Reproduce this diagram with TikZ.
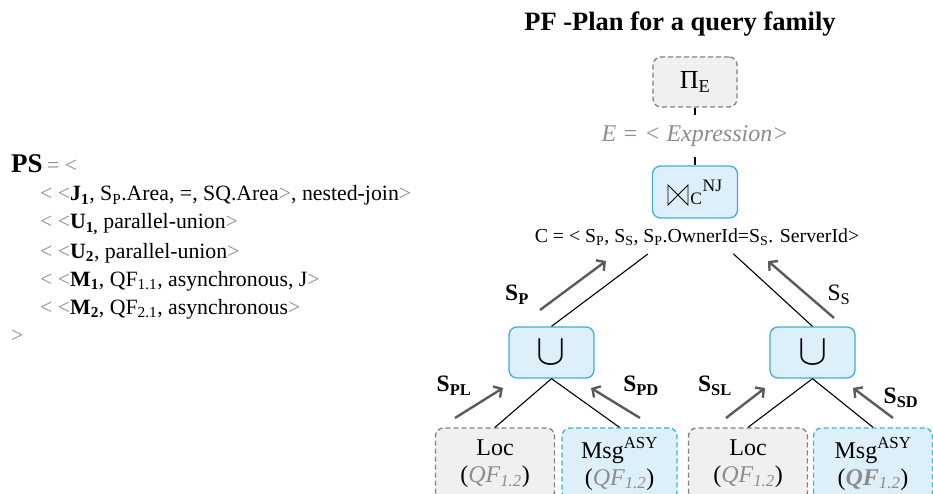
\documentclass[tikz,border=0pt]{standalone}
\usepackage{fontspec}
\setmainfont{Liberation Serif}
\usetikzlibrary{arrows.meta}
\definecolor{opfill}{HTML}{DDF0FA}
\definecolor{opline}{HTML}{3DAFD6}
\definecolor{srcfill}{HTML}{F0F0F0}
\definecolor{srcline}{HTML}{7F7F7F}
\definecolor{flowgray}{HTML}{5A5A5A}
\definecolor{note}{HTML}{8C8C8C}
\newcommand{\lt}{\textcolor{note}{<}}
\newcommand{\gt}{\textcolor{note}{>}}
\newcommand{\qf}[1]{(\textcolor{note}{\textit{#1\textsubscript{1.2}}})}
\newcommand{\unionop}{\scalebox{1.75}{$\cup$}}
\begin{document}
\begin{tikzpicture}[x=1pt,y=-1pt,
  every node/.style={inner sep=0pt},
  opbox/.style={draw=opline, fill=opfill, line width=1.3pt, rounded corners=8pt,
    minimum width=85pt, minimum height=51pt, font=\fontsize{25}{28}\selectfont},
  srcbox/.style={draw=srcline, fill=srcfill, line width=1.3pt, dash pattern=on 5pt off 3pt,
    rounded corners=8pt, minimum width=119pt, minimum height=72pt, align=center,
    font=\fontsize{24}{27}\selectfont},
  msgbox/.style={srcbox, draw=opline, fill=opfill},
  tree/.style={line width=1.1pt, black},
  flow/.style={draw=flowgray, line width=2.4pt, -{Straight Barb[length=6pt,width=13pt]}},
  flowlbl/.style={font=\fontsize{23.5}{25}\selectfont},
  psline/.style={anchor=base west, font=\fontsize{21.8}{24}\selectfont},
  joinsym/.style={line width=0.9pt, line join=miter},
]
\useasboundingbox (0,0) rectangle (933,494);
\clip (0,0) rectangle (933,494);

% ---- PS list ----
\node[psline, font=\fontsize{27}{29}\selectfont] (ps0) at (11,173)
  {\textbf{PS}\,\textcolor{note}{\fontsize{21.8}{24}\selectfont= <}};
\node[psline] (ps1) at (40,201) {\lt\ \lt\textbf{J\textsubscript{1}}, S\textsubscript{P}.Area, =, SQ.Area\gt, nested-join\gt};
\node[psline] (ps2) at (40,229) {\lt\ \lt\textbf{U\textsubscript{1,}} parallel-union\gt};
\node[psline] (ps3) at (40,258) {\lt\ \lt\textbf{U\textsubscript{2}}, parallel-union\gt};
\node[psline] (ps4) at (40,286) {\lt\ \lt\textbf{M\textsubscript{1}}, QF\textsubscript{1.1}, asynchronous,\ J\gt};
\node[psline] (ps5) at (40,314) {\lt\ \lt\textbf{M\textsubscript{2}}, QF\textsubscript{2.1}, asynchronous\gt};
\node[psline] (ps6) at (11,342) {\gt};

% ---- plan ----
\node[anchor=base, font=\bfseries\fontsize{26.5}{30}\selectfont] (title) at (680,31)
  {PF -Plan for a query family};

\node[srcbox, minimum width=84pt, minimum height=50pt, font=\fontsize{26}{28}\selectfont]
  (proj) at (695,82) {Π\textsubscript{E}};
\node[minimum height=41pt, font=\itshape\fontsize{24}{26}\selectfont, text=note]
  (expr) at (695,136) {E = < Expression>};
% join operator: the bowtie glyph is drawn as a path in the reserved space
\node[opbox, minimum height=52pt] (join) at (695,192)
  {\hspace*{23pt}\textsubscript{C}\textsuperscript{NJ}};
\begin{scope}[shift={(join.center)}]
  \draw[joinsym] (-27,-7) -- (-27,13) -- (-7,-7) -- (-7,13) -- cycle;
\end{scope}
\node[font=\fontsize{19.8}{21}\selectfont] (cond) at (697,237)
  {C = < S\textsubscript{P}, S\textsubscript{S}, S\textsubscript{P}.OwnerId=S\textsubscript{S}. ServerId>};

\node[opbox] (u1) at (551.5,352.5) {\unionop};
\node[opbox] (u2) at (812.5,352.5) {\unionop};

\node[srcbox] (loc1) at (495,464) {Loc\\\qf{QF}};
\node[msgbox, minimum width=115pt] (msg1) at (619.5,464) {Msg\textsuperscript{ASY}\\\qf{QF}};
\node[srcbox] (loc2) at (748,464) {Loc\\\qf{QF}};
\node[msgbox] (msg2) at (873,464) {Msg\textsuperscript{ASY}\\\qf{\textbf{QF}}};

% tree edges
\draw[tree] (proj.south) -- (expr.north);
\draw[tree] (expr.south) -- (join.north);
\draw[tree, shorten <=59pt] (join.south) -- (u1.north);
\draw[tree, shorten <=52pt] (join.south) -- (u2.north);
\draw[tree] (u1.south) -- (loc1.north);
\draw[tree] (u1.south) -- (msg1.north);
\draw[tree] (u2.south) -- (loc2.north);
\draw[tree] (u2.south) -- (msg2.north);

% data flow arrows
\coordinate (sp0) at (540,310); \coordinate (sp1) at (606,261);
\coordinate (ss0) at (834,318); \coordinate (ss1) at (768,261);
\coordinate (pl0) at (455,418); \coordinate (pl1) at (503,388);
\coordinate (pd0) at (640,418); \coordinate (pd1) at (591,388);
\coordinate (sl0) at (726,418); \coordinate (sl1) at (765,388);
\coordinate (sd0) at (893,418); \coordinate (sd1) at (853,388);
\draw[flow] (sp0) -- (sp1);
\draw[flow] (ss0) -- (ss1);
\draw[flow] (pl0) -- (pl1);
\draw[flow] (pd0) -- (pd1);
\draw[flow] (sl0) -- (sl1);
\draw[flow] (sd0) -- (sd1);

\node[flowlbl] (lsp) at (517,295) {\textbf{S\textsubscript{P}}};
\node[flowlbl] (lss) at (839,295) {S\textsubscript{S}};
\node[flowlbl] (lpl) at (454,386) {\textbf{S\textsubscript{PL}}};
\node[flowlbl] (lpd) at (641,386) {\textbf{S\textsubscript{PD}}};
\node[flowlbl] (lsl) at (715,386) {\textbf{S\textsubscript{SL}}};
\node[flowlbl] (lsd) at (901,398) {\textbf{S\textsubscript{SD}}};
\end{tikzpicture}
\end{document}
